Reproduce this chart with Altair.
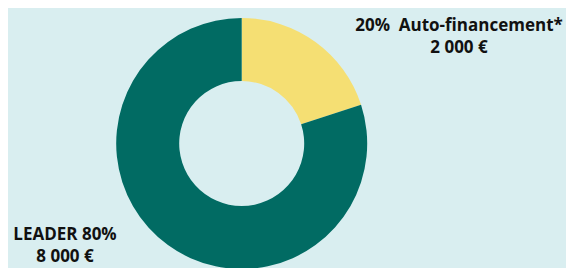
import altair as alt
import pandas as pd

categories = ["Auto-financement*", "LEADER"]
shares = [20, 80]
amounts = ["2 000 €", "8 000 €"]
colors = ["#f5df73", "#016b63"]

df = pd.DataFrame({"cat": categories, "share": shares, "order": [0, 1]})

donut = alt.Chart(df).mark_arc(
    innerRadius=62.5, outerRadius=125.5, stroke=None
).encode(
    theta=alt.Theta("share:Q", stack=True),
    order=alt.Order("order:Q"),
    color=alt.Color("cat:N", scale=alt.Scale(domain=categories, range=colors), legend=None),
    x=alt.value(233.7),
    y=alt.value(135.5),
)

lab1 = pd.DataFrame({"t": [[f"{shares[0]}%\u00a0 {categories[0]}", amounts[0]]]})
lab2 = pd.DataFrame({"t": [[f"{categories[1]} {shares[1]}%", amounts[1]]]})

txt_style = dict(font="Open Sans", fontWeight="bold", fontSize=17, color="#111111",
                 align="center", baseline="alphabetic", lineHeight=22)

t1 = alt.Chart(lab1).mark_text(**txt_style).encode(
    text="t", x=alt.value(451), y=alt.value(23))
t2 = alt.Chart(lab2).mark_text(**txt_style).encode(
    text="t", x=alt.value(57), y=alt.value(232))

chart = alt.layer(donut, t1, t2).properties(
    width=558, height=260, padding=0,
    autosize=alt.AutoSizeParams(type="fit", contains="padding"),
    background="#d9eef0",
).configure_view(stroke=None)

chart.save("out.html", embed_options={"renderer": "svg", "actions": False})
